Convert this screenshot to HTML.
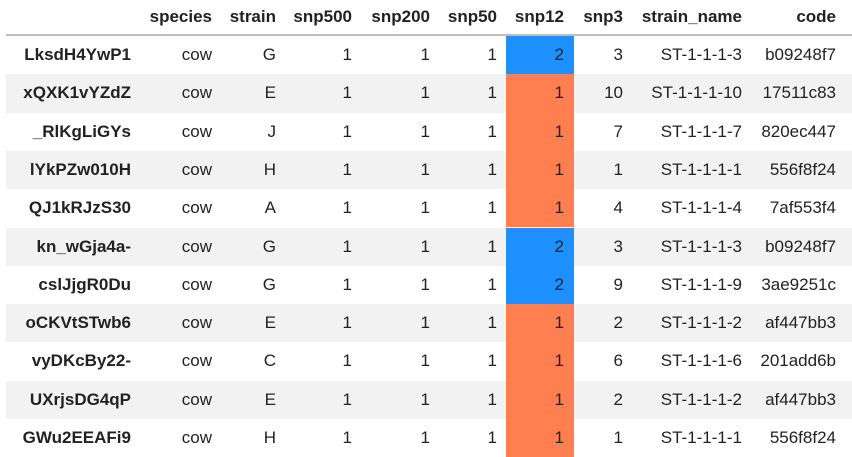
<!DOCTYPE html>
<html><head><meta charset="utf-8"><style>
body{margin:0;width:852px;height:457px;background:#fff;font-family:"Liberation Sans",sans-serif;font-size:17px;color:#222;position:relative;overflow:hidden}
.c{position:absolute;height:38px;line-height:38px;white-space:nowrap;text-align:right}
.h{font-weight:bold;line-height:34px;height:34px}
.row{position:absolute;left:6px;width:846px;height:38.3px}
</style></head><body>
<div style="position:absolute;left:6px;top:34px;width:846px;height:2px;background:#bdbdbd"></div>
<script>
const cols=["","species","strain","snp500","snp200","snp50","snp12","snp3","strain_name","code"];
const idx=["LksdH4YwP1","xQXK1vYZdZ","_RlKgLiGYs","lYkPZw010H","QJ1kRJzS30","kn_wGja4a-","cslJjgR0Du","oCKVtSTwb6","vyDKcBy22-","UXrjsDG4qP","GWu2EEAFi9"];
const strain=["G","E","J","H","A","G","G","E","C","E","H"];
const snp12=[2,1,1,1,1,2,2,1,1,1,1];
const snp3=[3,10,7,1,4,3,9,2,6,2,1];
const sname=["ST-1-1-1-3","ST-1-1-1-10","ST-1-1-1-7","ST-1-1-1-1","ST-1-1-1-4","ST-1-1-1-3","ST-1-1-1-9","ST-1-1-1-2","ST-1-1-1-6","ST-1-1-1-2","ST-1-1-1-1"];
const code=["b09248f7","17511c83","820ec447","556f8f24","7af553f4","b09248f7","3ae9251c","af447bb3","201add6b","af447bb3","556f8f24"];
const rights=[131,212,276,352,430,497,564,623,742,836];
function cell(txt,r,top,cls){const d=document.createElement('div');d.className='c '+cls;d.textContent=txt;d.style.top=top+'px';d.style.right=(852-r)+'px';document.body.appendChild(d);return d;}
cols.forEach((c,i)=>{if(!c)return;const d=cell(c,rights[i],0,'h');

});
idx.forEach((id,r)=>{const top=36+r*38.3;
const rw=document.createElement('div');rw.className='row';rw.style.top=top+'px';rw.style.background=r%2?'#f2f2f2':'#fff';


document.body.appendChild(rw);
const bg=document.createElement('div');bg.style.cssText='position:absolute;left:506px;width:68px;top:'+top+'px;height:38.3px;background:'+(snp12[r]>1?'#1e90ff':'#ff7f50');


document.body.appendChild(bg);
const vals=[id,'cow',strain[r],1,1,1,snp12[r],snp3[r],sname[r],code[r]];
vals.forEach((v,i)=>{const d=cell(String(v),rights[i],top,i===0?'h':'');if(i===0){d.style.lineHeight='38px';d.style.height='38px';}

});});
</script>
</body></html>
